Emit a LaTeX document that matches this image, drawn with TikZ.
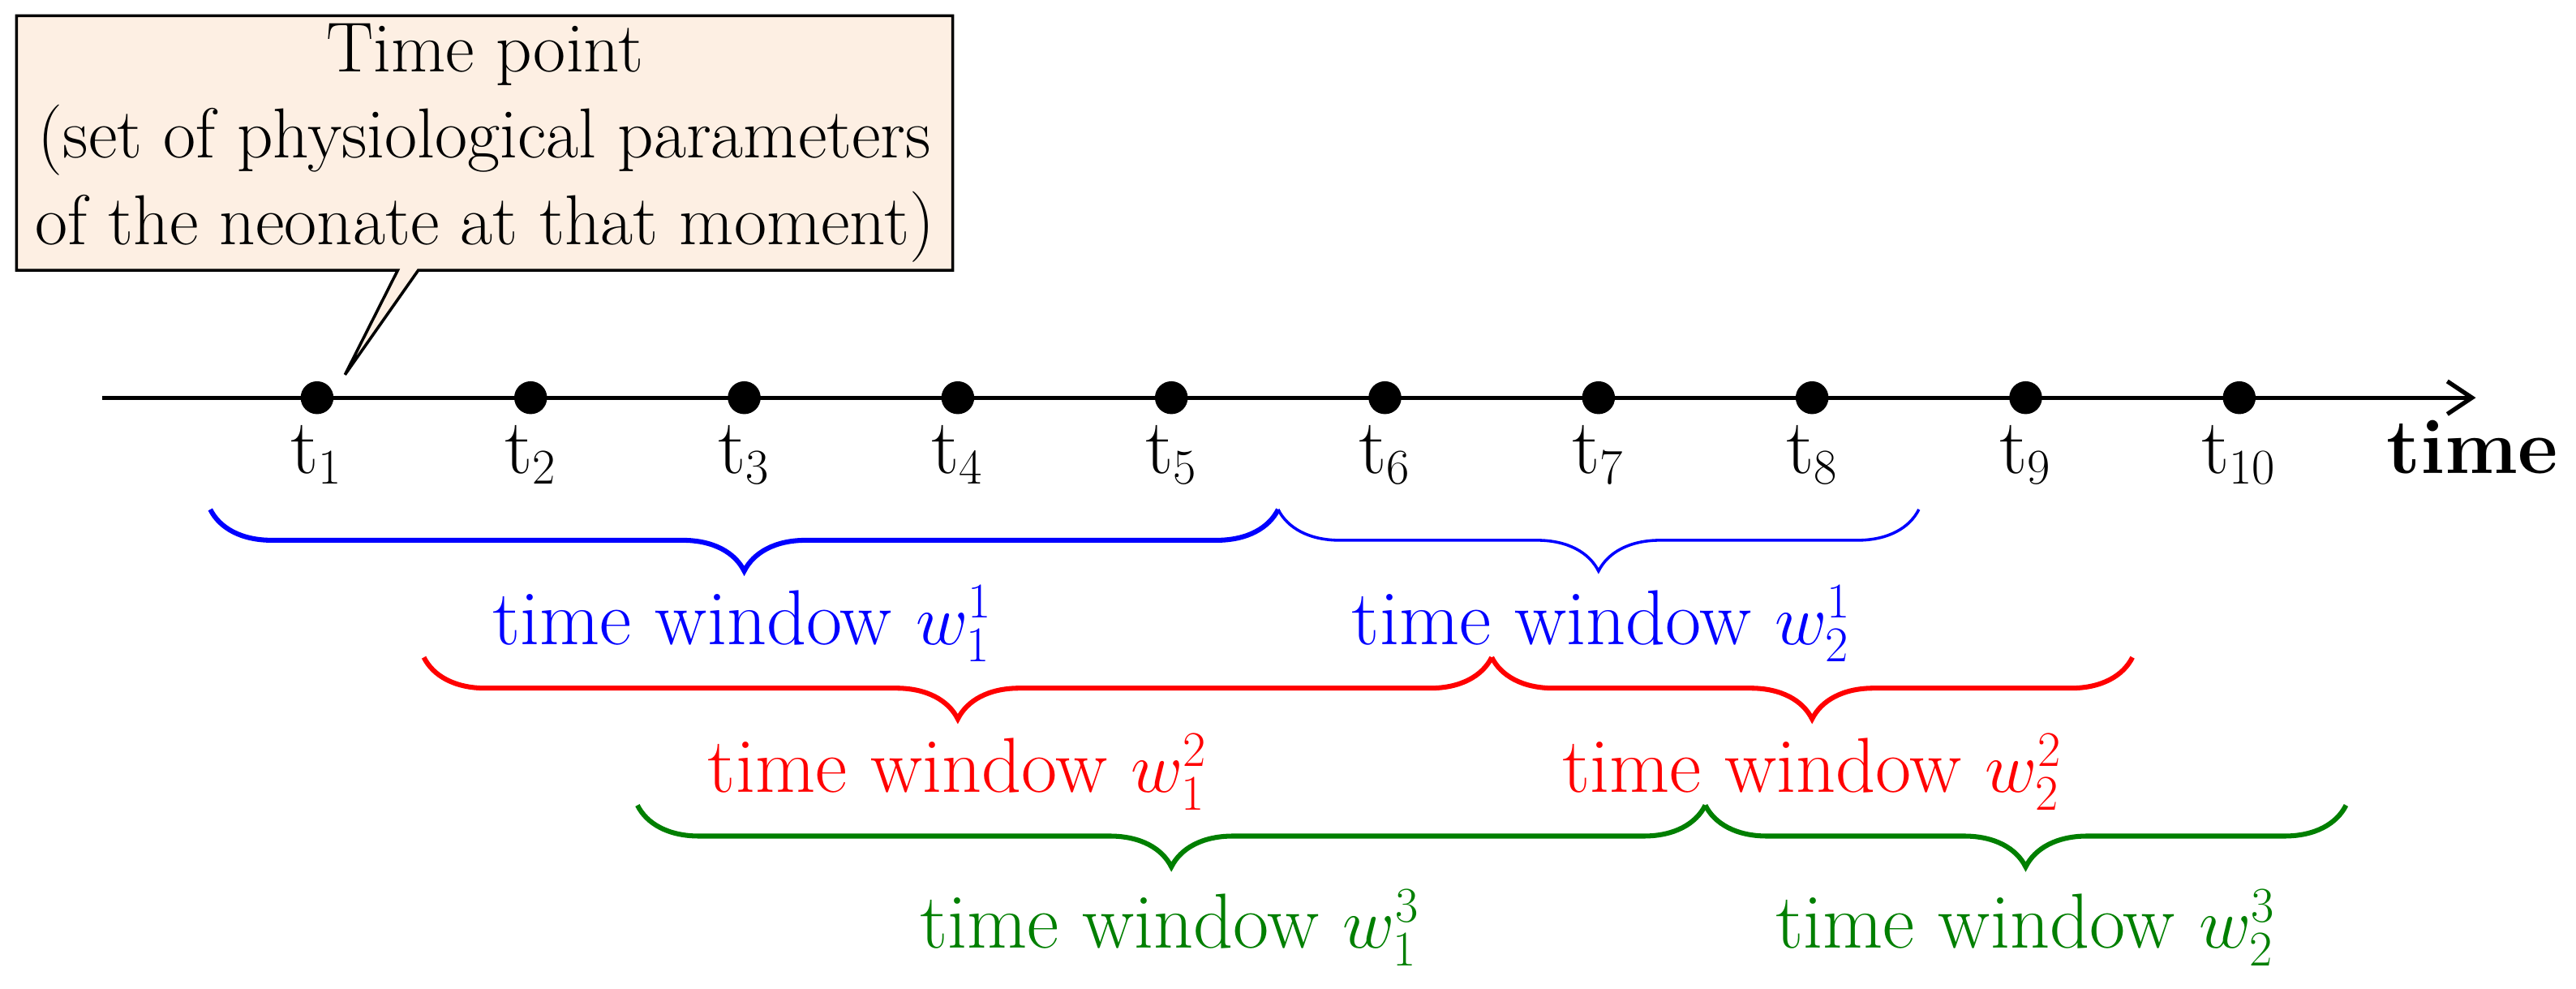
\documentclass[tikz,border=0pt]{standalone}
\usetikzlibrary{decorations.pathreplacing,shapes.callouts,arrows.meta}
\definecolor{callfill}{HTML}{FDEFE3}
\definecolor{dgreen}{HTML}{007F00}
\tikzset{
 big/.style={font=\fontsize{27}{33}\selectfont},
 brc/.style={decorate,decoration={brace,mirror,amplitude=0.75cm},line width=1.7pt},
 dotn/.style={circle,fill=black,inner sep=0pt,minimum size=0.4cm}
}
\begin{document}
\begin{tikzpicture}[x=0.02cm,y=-0.02cm]
\useasboundingbox (0,0) rectangle (1568,601.5);
\coordinate (as) at (62,242);
\coordinate (ae) at (1507,242);
\draw[line width=1.5pt,-{Straight Barb[length=0.3cm,width=0.4cm]}] (as) -- (ae);
\foreach \i in {1,...,10}{
  \node[dotn] (d\i) at ({193+130.0*(\i-1)},242) {};
  \node[big,anchor=base] (t\i) at ({193+130.0*(\i-1)},288) {t$_{\i}$};
}
\node[big,anchor=base] (tm) at (1505,288) {\textbf{time}};
\node[font=\fontsize{24.5}{30}\selectfont,rectangle callout,draw,fill=callfill,line width=1pt,align=center,
  minimum width=11.4cm,minimum height=3.1cm,inner sep=2pt,
  callout absolute pointer={(210,228)}] (cb) at (295,87)
  {Time point\\(set of physiological parameters\\of the neonate at that moment)};
% blue
\coordinate (b0) at (128,310); \coordinate (b1) at (778,310); \coordinate (b2) at (1168,310);
\draw[brc,blue] (b0) -- (b1);
\draw[brc,blue,line width=1pt] (b1) -- (b2);
\node[big,blue,anchor=base] (lb1) at (452,392) {time window $w_1^1$};
\node[big,blue,anchor=base] (lb2) at (975,392) {time window $w_2^1$};
% red
\coordinate (r0) at (258,400); \coordinate (r1) at (908,400); \coordinate (r2) at (1298,400);
\draw[brc,red] (r0) -- (r1);
\draw[brc,red] (r1) -- (r2);
\node[big,red,anchor=base] (lr1) at (583,482) {time window $w_1^2$};
\node[big,red,anchor=base] (lr2) at (1103,482) {time window $w_2^2$};
% green
\coordinate (g0) at (388,490); \coordinate (g1) at (1038,490); \coordinate (g2) at (1428,490);
\draw[brc,dgreen] (g0) -- (g1);
\draw[brc,dgreen] (g1) -- (g2);
\node[big,dgreen,anchor=base] (lg1) at (712,577) {time window $w_1^3$};
\node[big,dgreen,anchor=base] (lg2) at (1233,577) {time window $w_2^3$};
\end{tikzpicture}
\end{document}
